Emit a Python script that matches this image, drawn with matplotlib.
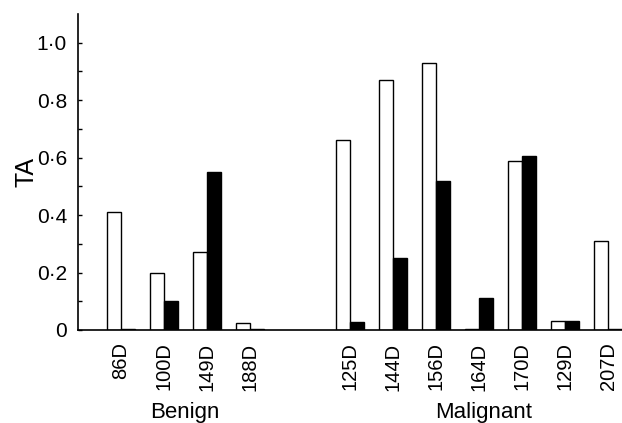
import matplotlib.pyplot as plt
import numpy as np

plt.rcParams['font.family'] = ['Liberation Sans', 'DejaVu Sans']

# Tumour samples and TA values (white = open bars, black = filled bars)
benign = ['86D', '100D', '149D', '188D']
malignant = ['125D', '144D', '156D', '164D', '170D', '129D', '207D']
open_vals = [0.41, 0.20, 0.27, 0.023, 0.66, 0.87, 0.93, 0.003, 0.59, 0.03, 0.31]
filled_vals = [0.003, 0.10, 0.55, 0.003, 0.028, 0.25, 0.52, 0.11, 0.605, 0.03, 0.005]

labels = benign + malignant
pos = np.array(list(range(len(benign))) +
               [len(benign) + 1.33 + i for i in range(len(malignant))])

fig = plt.figure(figsize=(6.22, 4.23), dpi=100)
ax = fig.add_axes([0.1254, 0.2199, 0.8746, 0.747])

w = 0.33
ax.bar(pos - w / 2, open_vals, w, color='white', edgecolor='black', linewidth=1.0)
ax.bar(pos + w / 2, filled_vals, w, color='black', edgecolor='black', linewidth=1.0)

ax.set_xlim(-1.0, 11.65)
ax.set_ylim(0, 1.1)

ax.spines['top'].set_visible(False)
ax.spines['right'].set_visible(False)
ax.spines['left'].set_linewidth(1.2)
ax.spines['bottom'].set_linewidth(1.2)

yt = [0, 0.2, 0.4, 0.6, 0.8, 1.0]
ax.set_yticks(yt)
ax.set_yticklabels(['0', '0·2', '0·4', '0·6', '0·8', '1·0'], fontsize=15)
ax.set_yticks([0.1, 0.3, 0.5, 0.7, 0.9], minor=True)
ax.tick_params(axis='y', which='both', direction='in', length=3, width=1, pad=8)

ax.set_xticks(pos)
ax.set_xticklabels(labels, rotation=90, fontsize=14.5)
ax.tick_params(axis='x', length=0, pad=9)

# y-axis title placed by hand so it stays inside the figure
fig.text(0.043, 0.593, 'TA', fontsize=18, rotation=90, ha='center', va='center')

fig.text(0.297, 0.0, 'Benign', fontsize=16, ha='center', va='bottom')
fig.text(0.777, 0.0, 'Malignant', fontsize=16, ha='center', va='bottom')

fig.savefig('out.png', dpi=100)
